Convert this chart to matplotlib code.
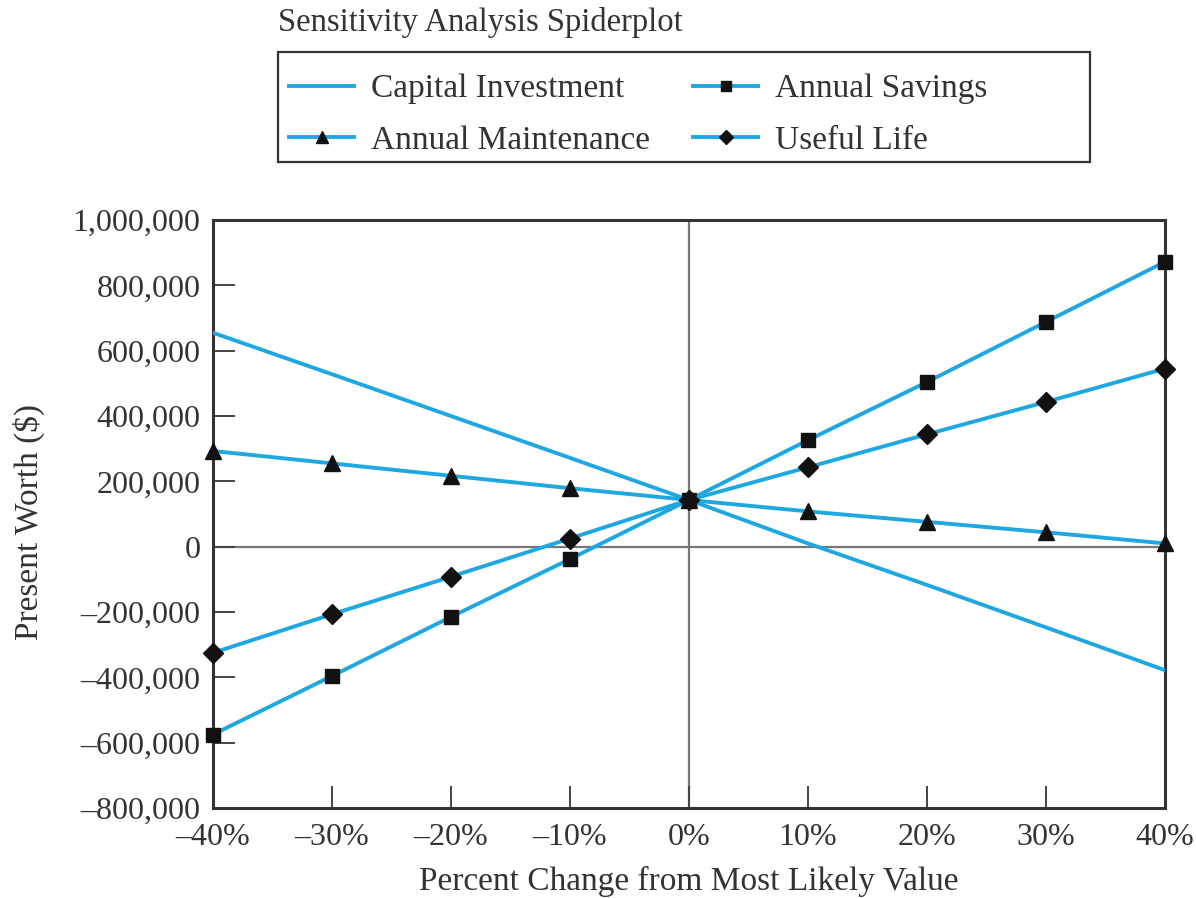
import numpy as np
import matplotlib
matplotlib.use("Agg")
import matplotlib.pyplot as plt
from matplotlib.ticker import FuncFormatter
from matplotlib.patches import Rectangle

#percent change from most likely value
pct_change = [-40, -30, -20, -10, 0, 10, 20, 30, 40]

#present worth for each parameter ($)
capital_investment = [655000, 528000, 400000, 272000, 143000, 10000, -117000, -247000, -378000]
annual_savings = [-575000, -396000, -215000, -38000, 143000, 326000, 504000, 688000, 872000]
annual_maintenance = [293000, 255000, 217000, 179000, 143000, 108000, 76000, 44000, 10000]
useful_life = [-325000, -207000, -92000, 25000, 143000, 243000, 344000, 443000, 545000]

y_ticks = [-800000, -600000, -400000, -200000, 0, 200000, 400000, 600000, 800000, 1000000]

line_color = "#1ea7e1"
text_color = "#333333"
plt.rcParams["font.family"] = ["Liberation Serif", "DejaVu Serif"]

W, H = 1196, 898
fig = plt.figure(figsize=(W / 100, H / 100), dpi=100)
ax = fig.add_axes([0.178, 0.1002, 0.796, 0.6548])

#zero reference lines
ax.axhline(0, color="#777777", lw=1.6, zorder=1)
ax.axvline(0, color="#777777", lw=1.6, zorder=1)

h_cap, = ax.plot(pct_change, capital_investment, color=line_color, lw=2.8, label="Capital Investment", zorder=3)
h_sav, = ax.plot(pct_change, annual_savings, color=line_color, lw=2.8, marker="s", ms=10,
                 mfc="#111111", mec="#111111", label="Annual Savings", zorder=3, clip_on=False)
h_mnt, = ax.plot(pct_change, annual_maintenance, color=line_color, lw=2.8, marker="^", ms=12,
                 mfc="#111111", mec="#111111", label="Annual Maintenance", zorder=3, clip_on=False)
h_life, = ax.plot(pct_change, useful_life, color=line_color, lw=2.8, marker="D", ms=10,
                  mfc="#111111", mec="#111111", label="Useful Life", zorder=3, clip_on=False)

ax.set_xlim(-40, 40)
ax.set_ylim(-800000, 1000000)
ax.set_xticks(pct_change)
ax.set_yticks(y_ticks)
ax.xaxis.set_major_formatter(FuncFormatter(lambda v, p: f"{int(v)}%".replace("-", "\u2013")))
ax.yaxis.set_major_formatter(FuncFormatter(lambda v, p: f"{int(v):,}".replace("-", "\u2013")))
ax.tick_params(axis="both", direction="in", length=16, width=1.4, color="#444444",
               labelsize=23, labelcolor=text_color)
ax.tick_params(axis="x", pad=11)
ax.tick_params(axis="y", pad=9)

for s in ax.spines.values():
    s.set_color(text_color)
    s.set_linewidth(2.2)

ax.set_xlabel("Percent Change from Most Likely Value", fontsize=24, color=text_color, labelpad=10)
ax.set_ylabel("Present Worth ($)", fontsize=24, color=text_color)
ax.yaxis.set_label_coords(-0.176, 0.486)

#legend above the plot, frame drawn separately
leg = fig.legend([h_cap, h_mnt, h_sav, h_life],
                 ["Capital Investment", "Annual Maintenance", "Annual Savings", "Useful Life"],
                 ncol=2, loc="upper left", bbox_to_anchor=(289 / W, 1 - 74 / H),
                 fontsize=24, frameon=False, handlelength=1.95, borderaxespad=0, borderpad=0,
                 labelspacing=0.63, handletextpad=0.5, columnspacing=1.3, markerscale=0.75)
for t in leg.get_texts():
    t.set_color(text_color)
fig.patches.append(Rectangle((278 / W, 1 - 162 / H), (1090 - 278) / W, 110 / H,
                             transform=fig.transFigure, fill=False, ec=text_color, lw=1.6))

fig.text(278 / W, 1 - 23 / H, "Sensitivity Analysis Spiderplot", fontsize=23.5,
         color=text_color, ha="left", va="center")

fig.savefig("out.png", dpi=100, facecolor="white")
